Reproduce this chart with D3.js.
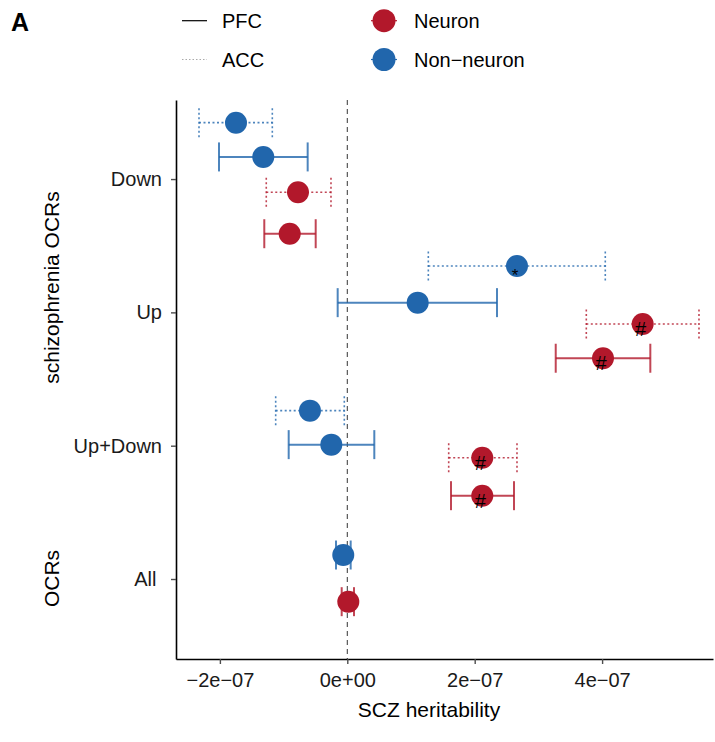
<!DOCTYPE html>
<html>
<head>
<meta charset="utf-8">
<script src="https://cdn.jsdelivr.net/npm/d3@7"></script>
<style>
  html, body { margin: 0; padding: 0; background: #fff; }
  svg { display: block; font-family: "Liberation Sans", Arial, Helvetica, sans-serif; }
</style>
</head>
<body>
<svg id="chart" width="715" height="742"></svg>
<script>
// Row categories (numeric positions 1..4 on the vertical axis)
const categories = ["All", "Up+Down", "Up", "Down"];
const categoryLabels = ["All\u00A0", "Up+Down", "Up", "Down"];
const categoryPos = [1, 2, 3, 4];

// X axis ticks
const xTicks = [-2e-7, 0, 2e-7, 4e-7];
const xTickLabels = ["\u22122e\u221207", "0e+00", "2e\u221207", "4e\u221207"];

// One entry per estimate
const cellType = ["Non-neuron", "Non-neuron", "Neuron", "Neuron",
                  "Non-neuron", "Non-neuron", "Neuron", "Neuron",
                  "Non-neuron", "Non-neuron", "Neuron", "Neuron",
                  "Non-neuron", "Neuron"];
const region   = ["ACC", "PFC", "ACC", "PFC",
                  "ACC", "PFC", "ACC", "PFC",
                  "ACC", "PFC", "ACC", "PFC",
                  "PFC", "PFC"];
const category = ["Down", "Down", "Down", "Down",
                  "Up", "Up", "Up", "Up",
                  "Up+Down", "Up+Down", "Up+Down", "Up+Down",
                  "All", "All"];
// vertical position of each estimate within its row (jittered around the category)
const rowPos   = [4.423, 4.166, 3.901, 3.590,
                  3.348, 3.073, 2.913, 2.656,
                  2.263, 2.008, 1.910, 1.625,
                  1.180, 0.830];
const estimate = [-1.747e-7, -1.319e-7, -0.774e-7, -0.904e-7,
                   2.664e-7,  1.105e-7,  4.637e-7,  4.014e-7,
                  -0.586e-7, -0.251e-7,  2.119e-7,  2.119e-7,
                  -0.063e-7,  0.016e-7];
const lower    = [-2.328e-7, -2.014e-7, -1.272e-7, -1.303e-7,
                   1.272e-7, -0.151e-7,  3.752e-7,  3.272e-7,
                  -1.124e-7, -0.920e-7,  1.592e-7,  1.628e-7,
                  -0.177e-7, -0.088e-7];
const upper    = [-1.177e-7, -0.622e-7, -0.256e-7, -0.496e-7,
                   4.050e-7,  2.350e-7,  5.521e-7,  4.757e-7,
                  -0.047e-7,  0.424e-7,  2.664e-7,  2.617e-7,
                   0.053e-7,  0.105e-7];
const signif   = ["", "", "", "",
                  "*", "", "#", "#",
                  "", "", "#", "#",
                  "", ""];

const cellColor = { "Neuron": "#B2182B", "Non-neuron": "#2166AC" };
const regionDash = { "PFC": null, "ACC": "2,2.5" };

const data = estimate.map((v, i) => ({
  cell: cellType[i], region: region[i], category: category[i],
  pos: rowPos[i], est: v, lo: lower[i], hi: upper[i], mark: signif[i]
}));

const svg = d3.select("#chart");

const plot = { left: 176, right: 713, top: 100, bottom: 659 };

const x = d3.scaleLinear().domain([-2.689e-7, 5.741e-7]).range([plot.left, plot.right]);
const y = d3.scaleLinear().domain([0.4, 4.593]).range([plot.bottom, plot.top]);

// zero reference line
svg.append("line")
  .attr("x1", x(0)).attr("x2", x(0))
  .attr("y1", plot.top).attr("y2", plot.bottom)
  .attr("stroke", "#333").attr("stroke-width", 1)
  .attr("stroke-dasharray", "5,4");

// error bars
const capHalf = 14.5;
const bars = svg.append("g").selectAll("g").data(data).join("g")
  .attr("stroke", d => cellColor[d.cell])
  .attr("stroke-opacity", 0.8)
  .attr("stroke-width", d => d.region === "PFC" ? 2 : 1.6)
  .attr("stroke-dasharray", d => regionDash[d.region]);
bars.append("line")
  .attr("x1", d => x(d.lo)).attr("x2", d => x(d.hi))
  .attr("y1", d => y(d.pos)).attr("y2", d => y(d.pos));
bars.append("line")
  .attr("x1", d => x(d.lo)).attr("x2", d => x(d.lo))
  .attr("y1", d => y(d.pos) - capHalf).attr("y2", d => y(d.pos) + capHalf);
bars.append("line")
  .attr("x1", d => x(d.hi)).attr("x2", d => x(d.hi))
  .attr("y1", d => y(d.pos) - capHalf).attr("y2", d => y(d.pos) + capHalf);

// points
svg.append("g").selectAll("circle").data(data).join("circle")
  .attr("cx", d => x(d.est)).attr("cy", d => y(d.pos))
  .attr("r", 11)
  .attr("fill", d => cellColor[d.cell]);

// significance marks
svg.append("g").selectAll("text").data(data.filter(d => d.mark)).join("text")
  .attr("x", d => x(d.est) - 2)
  .attr("y", d => y(d.pos) + (d.mark === "*" ? 15 : 12))
  .attr("text-anchor", "middle")
  .attr("font-size", d => d.mark === "*" ? 17 : 20)
  .attr("fill", "#000")
  .text(d => d.mark);

// axes
const xAxis = d3.axisBottom(x)
  .tickValues(xTicks)
  .tickFormat((d, i) => xTickLabels[i])
  .tickSizeInner(5).tickSizeOuter(0).tickPadding(9);
const gx = svg.append("g").attr("transform", `translate(0,${plot.bottom})`).call(xAxis);

const yAxis = d3.axisLeft(y)
  .tickValues(categoryPos)
  .tickFormat((d, i) => categoryLabels[i])
  .tickSizeInner(5).tickSizeOuter(0).tickPadding(9);
const gy = svg.append("g").attr("transform", `translate(${plot.left},0)`).call(yAxis);

[gx, gy].forEach(g => {
  g.select(".domain").attr("stroke", "#000").attr("stroke-width", 1.6);
  g.selectAll(".tick line").attr("stroke", "#4d4d4d").attr("stroke-width", 1.4);
  g.selectAll(".tick text").attr("fill", "#1a1a1a").attr("font-size", 20)
    .attr("font-family", "Liberation Sans, Arial, sans-serif");
});

// axis titles
svg.append("text")
  .attr("x", 429).attr("y", 717)
  .attr("text-anchor", "middle").attr("font-size", 21).attr("fill", "#000")
  .text("SCZ heritability");
svg.append("text")
  .attr("transform", "translate(59,287.5) rotate(-90)")
  .attr("text-anchor", "middle").attr("font-size", 21).attr("fill", "#000")
  .text("schizophrenia OCRs");
svg.append("text")
  .attr("transform", "translate(59,578.5) rotate(-90)")
  .attr("text-anchor", "middle").attr("font-size", 21).attr("fill", "#000")
  .text("OCRs");

// panel tag
svg.append("text")
  .attr("x", 11).attr("y", 31)
  .attr("font-size", 25).attr("font-weight", "bold").attr("fill", "#000")
  .text("A");

// legend: region line types
const regions = ["PFC", "ACC"];
const legendRowY = [20.7, 59.5];
const lg = svg.append("g");
regions.forEach((r, i) => {
  lg.append("line")
    .attr("x1", 182).attr("x2", 207)
    .attr("y1", legendRowY[i]).attr("y2", legendRowY[i])
    .attr("stroke", r === "PFC" ? "#000" : "#aaa")
    .attr("stroke-width", r === "PFC" ? 1.2 : 1)
    .attr("stroke-dasharray", r === "PFC" ? null : "1.5,2");
  lg.append("text")
    .attr("x", 222).attr("y", legendRowY[i])
    .attr("dy", "0.36em").attr("font-size", 20).attr("fill", "#000")
    .text(r);
});

// legend: cell types
const cells = ["Neuron", "Non-neuron"];
cells.forEach((c, i) => {
  lg.append("line")
    .attr("x1", 371).attr("x2", 397)
    .attr("y1", legendRowY[i]).attr("y2", legendRowY[i])
    .attr("stroke", cellColor[c]).attr("stroke-width", 1.2);
  lg.append("circle")
    .attr("cx", 384).attr("cy", legendRowY[i]).attr("r", 11.5)
    .attr("fill", cellColor[c]);
  lg.append("text")
    .attr("x", 414).attr("y", legendRowY[i])
    .attr("dy", "0.36em").attr("font-size", 20).attr("fill", "#000")
    .text(c === "Non-neuron" ? "Non\u2212neuron" : c);
});
</script>
</body>
</html>
